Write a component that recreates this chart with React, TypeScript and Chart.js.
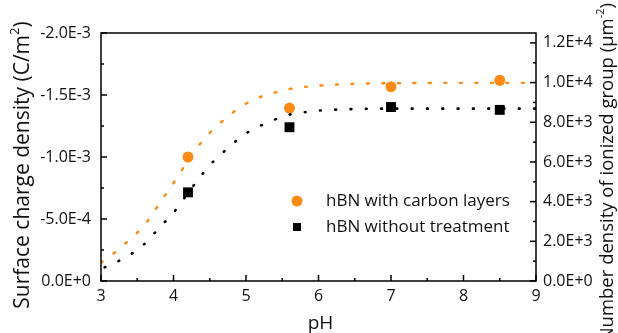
import React, { useEffect, useRef } from "react";
import { Chart, registerables } from "chart.js";
Chart.register(...registerables);

const FONT = "'Open Sans', sans-serif";
const ORANGE = "#FF8A14";
const BLACK = "#000000";

// Measured points
const pHCarbon = [4.2, 5.6, 7.0, 8.5];
const chargeCarbon = [-1.0e-3, -1.395e-3, -1.567e-3, -1.618e-3];
const pHBare = [4.2, 5.6, 7.0, 8.5];
const chargeBare = [-0.715e-3, -1.24e-3, -1.403e-3, -1.38e-3];

// Fitted curves
const fitCarbonPH = [3.0, 3.17, 3.33, 3.5, 3.65, 3.8, 4.0, 4.2, 4.4, 4.6, 4.8, 5.0, 5.2, 5.4, 5.6, 5.8, 6.0, 6.5, 7.0, 8.0, 9.0];
const fitCarbonCharge = [-0.148e-3, -0.22e-3, -0.3e-3, -0.39e-3, -0.49e-3, -0.62e-3, -0.79e-3, -0.97e-3, -1.13e-3, -1.25e-3, -1.35e-3, -1.43e-3, -1.485e-3, -1.52e-3, -1.548e-3, -1.565e-3, -1.575e-3, -1.59e-3, -1.595e-3, -1.598e-3, -1.598e-3];
const fitBarePH = [3.05, 3.18, 3.37, 3.56, 3.7, 3.85, 4.0, 4.12, 4.38, 4.52, 4.67, 4.83, 5.0, 5.17, 5.36, 5.56, 5.76, 5.98, 6.2, 7.0, 8.0, 9.0];
const fitBareCharge = [-0.11e-3, -0.143e-3, -0.202e-3, -0.277e-3, -0.363e-3, -0.457e-3, -0.551e-3, -0.645e-3, -0.849e-3, -0.946e-3, -1.03e-3, -1.113e-3, -1.19e-3, -1.244e-3, -1.293e-3, -1.336e-3, -1.357e-3, -1.373e-3, -1.381e-3, -1.39e-3, -1.39e-3, -1.39e-3];

// Axes
const xTicks = [3, 4, 5, 6, 7, 8, 9];
const xTickLabels = ["3", "4", "5", "6", "7", "8", "9"];
const xMinor = [3.5, 4.5, 5.5, 6.5, 7.5, 8.5];
const yTicks = [0, -5e-4, -1e-3, -1.5e-3, -2e-3];
const yTickLabels = ["0.0E+0", "-5.0E-4", "-1.0E-3", "-1.5E-3", "-2.0E-3"];
const yMinor = [-2.5e-4, -7.5e-4, -1.25e-3, -1.75e-3];
const y2Ticks = [0, 2000, 4000, 6000, 8000, 10000, 12000];
const y2TickLabels = ["0.0E+0", "2.0E+3", "4.0E+3", "6.0E+3", "8.0E+3", "1.0E+4", "1.2E+4"];
const y2Minor = [1000, 3000, 5000, 7000, 9000, 11000];

const legendLabels = ["hBN with carbon layers", "hBN without treatment"];
const xTitle = "pH";
const yTitle = ["Surface charge density (C/m", "2", ")"];
const y2Title = ["Number density of ionized group (\u03BCm", "-2", ")"];

function drawTitle(ctx: CanvasRenderingContext2D, parts: string[], size: number, cx: number, cy: number | null, topY: number | null) {
  const big = `${size}px ${FONT}`;
  const small = `${Math.round(size * 0.62)}px ${FONT}`;
  ctx.font = big;
  const w0 = ctx.measureText(parts[0]).width;
  ctx.font = small;
  const w1 = ctx.measureText(parts[1]).width;
  ctx.font = big;
  const w2 = ctx.measureText(parts[2]).width;
  const total = w0 + w1 + w2;
  const centerY = cy !== null ? cy : (topY as number) + total / 2;
  ctx.save();
  ctx.translate(cx, centerY);
  ctx.rotate(-Math.PI / 2);
  ctx.fillStyle = "#111";
  ctx.textBaseline = "middle";
  ctx.textAlign = "left";
  let x = -total / 2;
  ctx.font = big;
  ctx.fillText(parts[0], x, 0);
  x += w0;
  ctx.font = small;
  ctx.fillText(parts[1], x, -size * 0.38);
  x += w1;
  ctx.font = big;
  ctx.fillText(parts[2], x, 0);
  ctx.restore();
}

const decor = {
  id: "decor",
  afterDraw(chart: any) {
    const { ctx, chartArea: a, scales } = chart;
    ctx.save();
    ctx.strokeStyle = "#000";
    ctx.lineWidth = 1.5;
    ctx.strokeRect(a.left, a.top, a.right - a.left, a.bottom - a.top);
    const seg = (x1: number, y1: number, x2: number, y2: number) => {
      ctx.beginPath();
      ctx.moveTo(x1, y1);
      ctx.lineTo(x2, y2);
      ctx.stroke();
    };
    const MAJ = 6, MIN = 3;
    xTicks.forEach((v) => { const p = scales.x.getPixelForValue(v); seg(p, a.bottom, p, a.bottom - MAJ); });
    xMinor.forEach((v) => { const p = scales.x.getPixelForValue(v); seg(p, a.bottom, p, a.bottom - MIN); });
    yTicks.forEach((v) => { const p = scales.y.getPixelForValue(v); seg(a.left, p, a.left + MAJ, p); });
    yMinor.forEach((v) => { const p = scales.y.getPixelForValue(v); seg(a.left, p, a.left + MIN, p); });
    y2Ticks.forEach((v) => { const p = scales.y1.getPixelForValue(v); seg(a.right, p, a.right - MAJ, p); });
    y2Minor.forEach((v) => { const p = scales.y1.getPixelForValue(v); seg(a.right, p, a.right - MIN, p); });

    // legend
    const lx = a.left + 196;
    const ly = a.top + 168;
    ctx.fillStyle = ORANGE;
    ctx.beginPath();
    ctx.arc(lx, ly, 5.5, 0, Math.PI * 2);
    ctx.fill();
    ctx.fillStyle = BLACK;
    ctx.fillRect(lx - 4, ly + 26 - 4, 8, 8);
    ctx.fillStyle = "#111";
    ctx.font = `17px ${FONT}`;
    ctx.textBaseline = "middle";
    ctx.textAlign = "left";
    ctx.fillText(legendLabels[0], lx + 29, ly);
    ctx.fillText(legendLabels[1], lx + 29, ly + 26);

    // titles
    ctx.font = `19px ${FONT}`;
    ctx.textAlign = "center";
    ctx.fillText(xTitle, (a.left + a.right) / 2 + 2, 324);
    drawTitle(ctx, yTitle, 21, 23, 165, null);
    drawTitle(ctx, y2Title, 18.5, 608, null, 3);
    ctx.restore();
  },
};

export default function App() {
  const ref = useRef<HTMLCanvasElement | null>(null);
  useEffect(() => {
    document.body.style.margin = "0";
    const canvas = ref.current;
    if (!canvas) return;
    const chart = new Chart(canvas, {
      type: "scatter",
      data: {
        datasets: [
          {
            type: "line",
            data: fitCarbonPH.map((x, i) => ({ x, y: fitCarbonCharge[i] })),
            borderColor: ORANGE,
            borderWidth: 2.4,
            borderDash: [2, 13.5],
            borderCapStyle: "round",
            pointRadius: 0,
            tension: 0.4,
            cubicInterpolationMode: "monotone",
            fill: false,
            yAxisID: "y",
          } as any,
          {
            type: "line",
            data: fitBarePH.map((x, i) => ({ x, y: fitBareCharge[i] })),
            borderColor: BLACK,
            borderWidth: 2.6,
            borderDash: [0.8, 14.5],
            borderCapStyle: "round",
            pointRadius: 0,
            tension: 0.4,
            cubicInterpolationMode: "monotone",
            fill: false,
            yAxisID: "y",
          } as any,
          {
            type: "scatter",
            data: pHCarbon.map((x, i) => ({ x, y: chargeCarbon[i] })),
            pointStyle: "circle",
            pointRadius: 5.5,
            backgroundColor: ORANGE,
            borderWidth: 0,
            yAxisID: "y",
          },
          {
            type: "scatter",
            data: pHBare.map((x, i) => ({ x, y: chargeBare[i] })),
            pointStyle: "rect",
            pointRadius: 7,
            backgroundColor: BLACK,
            borderWidth: 0,
            yAxisID: "y",
          },
        ],
      },
      options: {
        responsive: false,
        animation: false,
        devicePixelRatio: 1,
        layout: { padding: { top: 33, left: 0, right: 0, bottom: 0 } },
        plugins: { legend: { display: false }, tooltip: { enabled: false } },
        scales: {
          x: {
            type: "linear",
            min: 3,
            max: 9,
            grid: { display: false, drawTicks: false },
            border: { display: false },
            afterFit: (s: any) => { s.height = 52; },
            afterBuildTicks: (s: any) => { s.ticks = xTicks.map((v) => ({ value: v })); },
            ticks: {
              padding: 6,
              color: "#111",
              font: { family: FONT, size: 16 },
              maxRotation: 0,
              callback: (v: any) => xTickLabels[xTicks.indexOf(Number(v))] ?? "",
            },
          },
          y: {
            type: "linear",
            position: "left",
            min: -2e-3,
            max: 0,
            reverse: true,
            grid: { display: false, drawTicks: false },
            border: { display: false },
            afterFit: (s: any) => { s.width = 101; },
            afterBuildTicks: (s: any) => { s.ticks = yTicks.map((v) => ({ value: v })); },
            ticks: {
              padding: 10,
              color: "#111",
              font: { family: FONT, size: 16 },
              callback: (v: any) => {
                const i = yTicks.findIndex((t) => Math.abs(t - Number(v)) < 1e-9);
                return i >= 0 ? yTickLabels[i] : "";
              },
            },
          },
          y1: {
            type: "linear",
            position: "right",
            min: 0,
            max: 12500,
            grid: { display: false, drawTicks: false },
            border: { display: false },
            afterFit: (s: any) => { s.width = 82; },
            afterBuildTicks: (s: any) => { s.ticks = y2Ticks.map((v) => ({ value: v })); },
            ticks: {
              padding: 7,
              color: "#111",
              font: { family: FONT, size: 16 },
              callback: (v: any) => {
                const i = y2Ticks.indexOf(Number(v));
                return i >= 0 ? y2TickLabels[i] : "";
              },
            },
          },
        },
      } as any,
      plugins: [decor],
    });
    return () => chart.destroy();
  }, []);
  return (
    <div style={{ width: 618, height: 333, position: "relative", background: "#fff" }}>
      <canvas ref={ref} width={618} height={333} style={{ display: "block" }} />
    </div>
  );
}
